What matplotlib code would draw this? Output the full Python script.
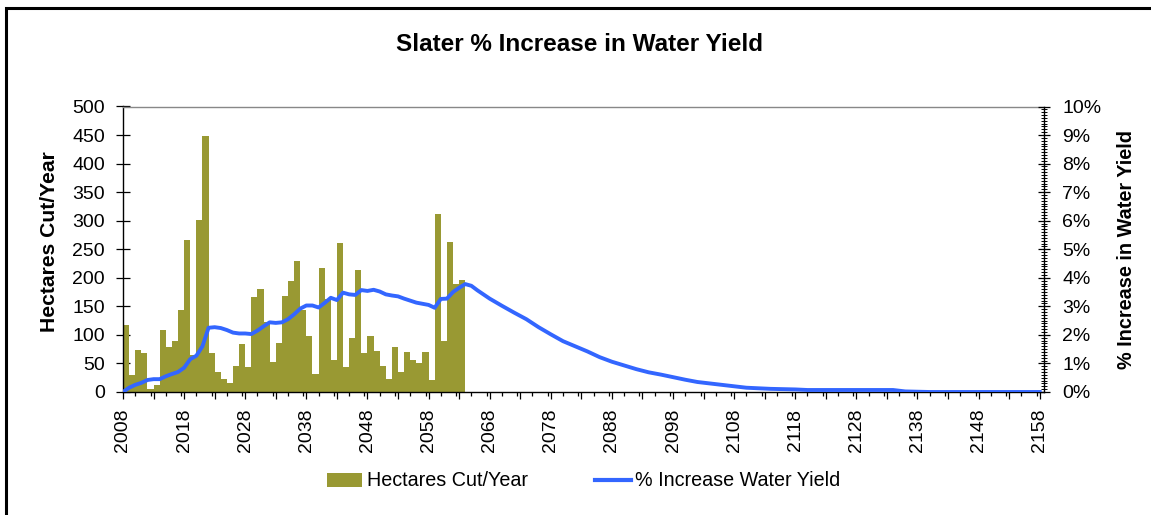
import matplotlib
matplotlib.use("Agg")
import matplotlib.pyplot as plt
from matplotlib.ticker import MultipleLocator, FuncFormatter
from matplotlib.patches import Rectangle
from matplotlib.lines import Line2D
from matplotlib.patches import Patch

plt.rcParams['font.family'] = ['Liberation Sans', 'DejaVu Sans']

# ---- data ----
bar_years = list(range(2008, 2064))
hectares = [118, 30, 73, 69, 5, 12, 108, 79, 89, 143,
            266, 65, 302, 448, 69, 35, 23, 16, 45, 84,
            44, 166, 180, 123, 52, 86, 168, 194, 229, 143,
            98, 31, 217, 163, 56, 261, 43, 94, 213, 68,
            98, 72, 45, 23, 79, 35, 70, 56, 51, 70,
            21, 312, 89, 262, 189, 196]

line_years = [2008, 2009, 2010, 2011, 2012, 2013, 2014, 2015, 2016, 2017,
              2018, 2019, 2020, 2021, 2022, 2023, 2024, 2025, 2026, 2027,
              2028, 2029, 2030, 2031, 2032, 2033, 2034, 2035, 2036, 2037,
              2038, 2039, 2040, 2041, 2042, 2043, 2044, 2045, 2046, 2047,
              2048, 2049, 2050, 2051, 2052, 2053, 2054, 2055, 2056, 2057,
              2058, 2059, 2060, 2061, 2062, 2063, 2064, 2065, 2066,
              2068, 2070, 2072, 2074, 2076, 2078, 2080, 2082, 2084, 2086,
              2088, 2090, 2092, 2094, 2096, 2098, 2100, 2102, 2104, 2106,
              2108, 2110, 2112, 2114, 2118, 2120, 2134, 2136, 2140, 2158]
water_pct = [0.0, 0.15, 0.25, 0.32, 0.42, 0.45, 0.45, 0.55, 0.63, 0.70,
             0.85, 1.15, 1.27, 1.60, 2.25, 2.27, 2.24, 2.17, 2.08, 2.05,
             2.05, 2.03, 2.15, 2.30, 2.44, 2.42, 2.44, 2.55, 2.72, 2.92,
             3.03, 3.03, 2.96, 3.12, 3.30, 3.22, 3.48, 3.42, 3.40, 3.57,
             3.54, 3.58, 3.52, 3.42, 3.38, 3.35, 3.27, 3.20, 3.13, 3.09,
             3.05, 2.95, 3.26, 3.27, 3.50, 3.65, 3.78, 3.72, 3.56,
             3.27, 3.02, 2.78, 2.55, 2.27, 2.02, 1.78, 1.60, 1.42, 1.22,
             1.06, 0.93, 0.80, 0.69, 0.61, 0.52, 0.43, 0.35, 0.30, 0.25,
             0.20, 0.15, 0.13, 0.11, 0.09, 0.07, 0.07, 0.02, 0.0, 0.0]

x_labels = list(range(2008, 2159, 10))

title = "Slater % Increase in Water Yield"
left_label = "Hectares Cut/Year"
right_label = "% Increase in Water Yield"
bar_name = "Hectares Cut/Year"
line_name = "% Increase Water Yield"

bar_color = "#999933"
line_color = "#3366FF"

# ---- figure ----
W, H = 1151, 515
fig = plt.figure(figsize=(W / 100, H / 100), dpi=100)

# outer frame (cropped at right/bottom in reference)
fig.patches.append(Rectangle((6 / W, -0.1), 1.2, 1 - 8 / H + 0.1,
                             transform=fig.transFigure, fill=False,
                             edgecolor='black', linewidth=2.2))

ax = fig.add_axes([123 / W, 1 - 392 / H, (1044 - 123) / W, (392 - 106.5) / H])
ax.bar(bar_years, hectares, width=1.0, align='edge', color=bar_color,
       edgecolor='none', zorder=2)
ax.set_xlim(2008, 2158.7)
ax.set_ylim(0, 500)
ax.yaxis.set_major_locator(MultipleLocator(50))
ax.set_xticks(list(range(2008, 2159, 5)))
ax.set_xticklabels([str(y) if y in x_labels else '' for y in range(2008, 2159, 5)],
                   rotation=90, fontsize=14)
ax.xaxis.set_minor_locator(MultipleLocator(2.5))
ax.tick_params(axis='x', which='major', direction='out', length=5, width=0.9, pad=7)
ax.tick_params(axis='x', which='minor', direction='out', length=3, width=0.9)
ax.tick_params(axis='y', which='major', direction='inout', length=10, width=0.9,
               labelsize=14, pad=8)
for s in ['left', 'bottom']:
    ax.spines[s].set_linewidth(1.0)
ax.spines['top'].set_color('#888888')
ax.spines['top'].set_linewidth(1.0)
ax.spines['right'].set_visible(False)
ax.set_ylabel(left_label, fontsize=15.2, fontweight='bold')
ax.yaxis.set_label_coords((59 - 123) / 921, (392 - 242) / 285.5)

ax2 = ax.twinx()
ax2.plot(line_years, water_pct, color=line_color, linewidth=2.8, zorder=3,
         solid_joinstyle='round')
ax2.set_ylim(0, 10)
ax2.yaxis.set_major_locator(MultipleLocator(1))
ax2.yaxis.set_minor_locator(MultipleLocator(0.1))
ax2.yaxis.set_major_formatter(FuncFormatter(lambda v, p: f"{v:.0f}%"))
ax2.tick_params(axis='y', which='major', direction='inout', length=8, width=0.9,
                labelsize=14, pad=9)
ax2.tick_params(axis='y', which='minor', direction='inout', length=5, width=0.7)
ax2.spines['right'].set_linewidth(1.0)
ax2.spines['top'].set_visible(False)
ax2.spines['left'].set_visible(False)
ax2.spines['bottom'].set_visible(False)
ax2.set_ylabel(right_label, fontsize=14.3, fontweight='bold')
ax2.yaxis.set_label_coords((1117 - 123) / 921, 0.5)

fig.text(579 / W, 1 - 44.5 / H, title, ha='center', va='center',
         fontsize=17.5, fontweight='bold')

handles = [Patch(facecolor=bar_color, edgecolor='none'),
           Line2D([0], [0], color=line_color, linewidth=3.0)]
fig.legend(handles, [bar_name, line_name], loc='center',
           bbox_to_anchor=(584 / W, 1 - 481 / H), ncol=2, frameon=False,
           fontsize=14.2, handlelength=1.78, handletextpad=0.25,
           columnspacing=3.4)

fig.savefig("out.png", dpi=100)
